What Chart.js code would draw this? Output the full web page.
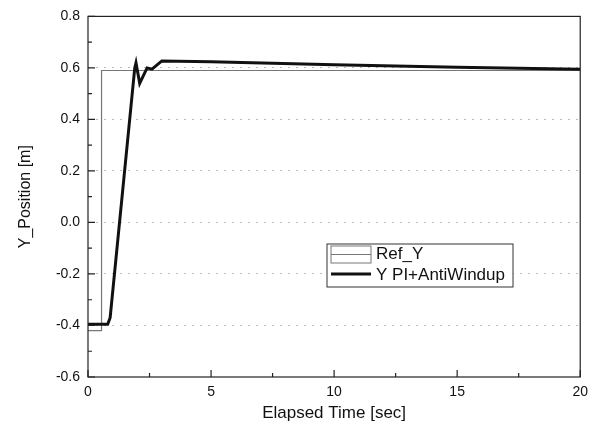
<!DOCTYPE html>
<html>
<head>
<meta charset="utf-8">
<script src="https://cdn.jsdelivr.net/npm/chart.js@4/dist/chart.umd.min.js"></script>
<style>
  html, body { margin: 0; padding: 0; background: #fff; }
  #wrap { width: 595px; height: 434px; }
</style>
</head>
<body>
<div id="wrap"><canvas id="chart" width="595" height="434"></canvas></div>
<script>
// reference step signal
const refTime = [0, 0.55, 0.55, 20];
const refY = [-0.42, -0.42, 0.59, 0.59];

// PI + anti-windup response
const piTime = [0, 0.8, 0.9, 1.9, 1.95, 2.1, 2.4, 2.6, 3.0, 5, 10, 15, 20];
const piY = [-0.395, -0.395, -0.37, 0.6, 0.62, 0.54, 0.6, 0.595, 0.627, 0.624, 0.612, 0.603, 0.595];

const xTicks = [0, 5, 10, 15, 20];
const yTicks = [-0.6, -0.4, -0.2, 0.0, 0.2, 0.4, 0.6, 0.8];

const seriesLabels = ['Ref_Y', 'Y PI+AntiWindup'];
const font = 'Liberation Sans, Arial, sans-serif';

const toPoints = (xs, ys) => xs.map((x, i) => ({ x: x, y: ys[i] }));

// box, inside ticks and legend drawn on top of the plot
const framePlugin = {
    id: 'frame',
    afterDatasetsDraw(chart) {
        const ctx = chart.ctx;
        const a = chart.chartArea;
        const xs = chart.scales.x;
        const ys = chart.scales.y;
        ctx.save();
        ctx.strokeStyle = '#222';
        ctx.lineWidth = 1.2;
        ctx.strokeRect(a.left, a.top, a.right - a.left, a.bottom - a.top);

        ctx.beginPath();
        for (let v = 0; v <= 20; v += 2.5) {
            const px = xs.getPixelForValue(v);
            const len = (v % 5 === 0) ? 7 : 4;
            ctx.moveTo(px, a.bottom);
            ctx.lineTo(px, a.bottom - len);
        }
        for (let i = 0; i <= 14; i++) {
            const v = -0.6 + i * 0.1;
            const py = ys.getPixelForValue(v);
            const len = (i % 2 === 0) ? 7 : 4;
            ctx.moveTo(a.left, py);
            ctx.lineTo(a.left + len, py);
        }
        ctx.stroke();

        // legend
        const lx = 327, ly = 244, lw = 186, lh = 43;
        ctx.fillStyle = '#fff';
        ctx.fillRect(lx, ly, lw, lh);
        ctx.strokeStyle = '#333';
        ctx.lineWidth = 1;
        ctx.strokeRect(lx, ly, lw, lh);

        ctx.strokeStyle = '#777';
        ctx.strokeRect(331, 246, 40, 17);
        ctx.beginPath();
        ctx.moveTo(331, 254.5);
        ctx.lineTo(371, 254.5);
        ctx.stroke();

        ctx.strokeStyle = '#111';
        ctx.lineWidth = 3;
        ctx.beginPath();
        ctx.moveTo(331, 274);
        ctx.lineTo(371, 274);
        ctx.stroke();

        ctx.fillStyle = '#111';
        ctx.font = '17px ' + font;
        ctx.textBaseline = 'middle';
        ctx.fillText(seriesLabels[0], 376, 254);
        ctx.fillText(seriesLabels[1], 376, 275);
        ctx.restore();
    }
};

new Chart(document.getElementById('chart'), {
    type: 'scatter',
    data: {
        datasets: [{
            label: seriesLabels[0],
            data: toPoints(refTime, refY),
            showLine: true,
            borderColor: '#777',
            borderWidth: 1.2,
            pointRadius: 0,
            order: 2
        }, {
            label: seriesLabels[1],
            data: toPoints(piTime, piY),
            showLine: true,
            borderColor: '#111',
            borderWidth: 3,
            pointRadius: 0,
            order: 1
        }]
    },
    options: {
        responsive: false,
        animation: false,
        layout: { padding: { top: 12, right: 11, left: 16, bottom: 10 } },
        plugins: {
            legend: { display: false },
            tooltip: { enabled: false }
        },
        scales: {
            x: {
                type: 'linear',
                min: 0,
                max: 20,
                afterBuildTicks: axis => { axis.ticks = xTicks.map(v => ({ value: v })); },
                afterFit: axis => { axis.height = 47; },
                grid: { display: false, drawTicks: false },
                border: { display: false },
                ticks: { color: '#111', font: { family: font, size: 14 }, padding: 7, maxRotation: 0 },
                title: { display: true, text: 'Elapsed Time [sec]', color: '#111', font: { family: font, size: 17 }, padding: { top: 4, bottom: 0 } }
            },
            y: {
                min: -0.6,
                max: 0.8,
                afterBuildTicks: axis => { axis.ticks = yTicks.map(v => ({ value: v })); },
                afterFit: axis => { axis.width = 72; },
                grid: {
                    color: ctx => (ctx.tick && (ctx.tick.value <= -0.55 || ctx.tick.value >= 0.75)) ? 'rgba(0,0,0,0)' : '#bbb',
                    lineWidth: 1,
                    drawTicks: false
                },
                border: { display: false, dash: [2, 6] },
                ticks: {
                    color: '#111',
                    font: { family: font, size: 14 },
                    padding: 8,
                    callback: v => v.toFixed(1)
                },
                title: { display: true, text: 'Y_Position [m]', color: '#111', font: { family: font, size: 16 }, padding: { top: 0, bottom: 2 } }
            }
        }
    },
    plugins: [framePlugin]
});
</script>
</body>
</html>
